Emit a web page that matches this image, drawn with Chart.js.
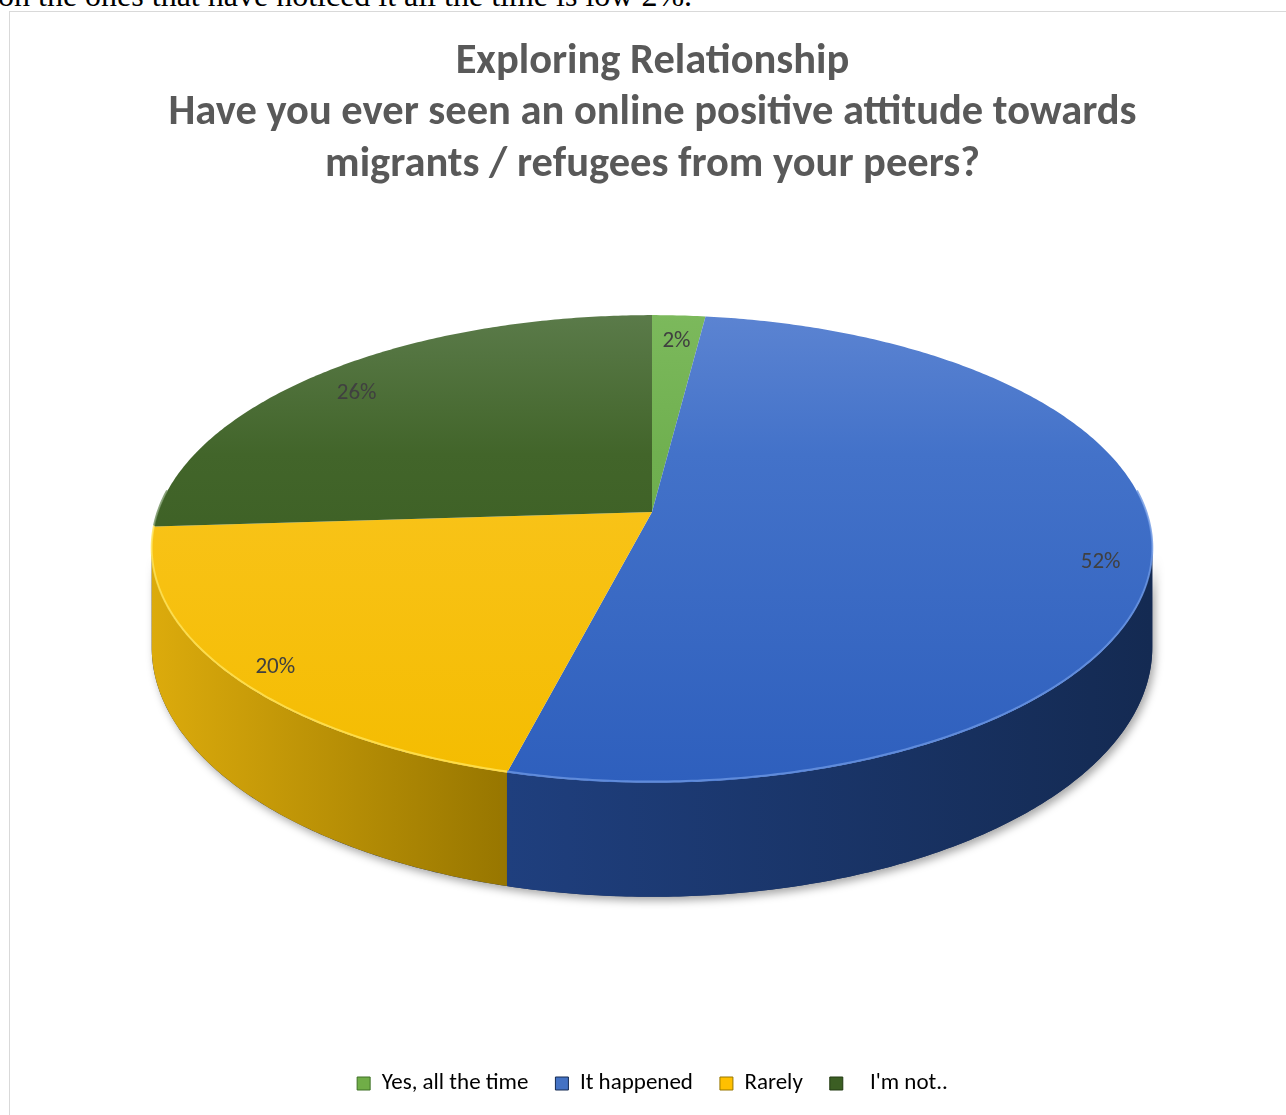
<!DOCTYPE html>
<html>
<head>
<meta charset="utf-8">
<script src="https://cdn.jsdelivr.net/npm/chart.js@4.4.1/dist/chart.umd.min.js"></script>
<style>
  html, body { margin: 0; padding: 0; background: #fff; width: 1286px; height: 1115px; overflow: hidden; }
  #lead { position: absolute; left: -2px; top: -23px; font: 32px "Liberation Serif", "Times New Roman", serif; line-height: 36px; color: #000; white-space: nowrap; }
  #frame { position: absolute; left: 9px; top: 11px; width: 1320px; height: 1200px; border: 1px solid #d9d9d9; box-sizing: border-box; }
  #wrap { position: absolute; left: 0; top: 0; width: 1286px; height: 1115px; }
</style>
</head>
<body>
<div id="lead">on the ones that have noticed it all the time is low 2%.</div>
<div id="frame"></div>
<div id="wrap"><canvas id="c" width="1286" height="1115"></canvas></div>
<script>
// Survey answers and their shares (percent)
const categories = ['Yes, all the time', 'It happened', 'Rarely', '   I\'m not..'];
const shares = [2, 52, 20, 26];

// Title lines
const titleLines = [
  'Exploring Relationship',
  'Have you ever seen an online positive attitude towards',
  'migrants / refugees from your peers?'
];

// Slice colours: top face (upper / middle / lower tone), side wall (left / right tone), legend swatch
const faceTop    = ['#7cb95c', '#5c84d2', '#fbc947', '#5b7b4a'];
const faceMid    = ['#70b050', '#4372c9', '#f9c41c', '#42652a'];
const faceBottom = ['#68aa47', '#2e5fbd', '#f4bc00', '#335619'];
const sideLeft   = ['#4f8a32', '#1f3f7e', '#dcab0c', '#2c4a18'];
const sideRight  = ['#3e7026', '#142a52', '#977600', '#223a12'];
const rimLight   = ['#9fd27e', '#6c96e2', '#ffe35a', '#6f8f5c'];
const swatch     = ['#70ad47', '#4472c4', '#ffc000', '#3b5e23'];

const FONT = 'Carlito, Lato, "Open Sans", sans-serif';

// Perspective view of the tilted disc
const view = { cx: 652, cy: 512, rx: 494, ry: 228, persp: -0.158, depth: 96 };

function project(theta, f, drop) {
  const u = f * Math.cos(theta), v = f * Math.sin(theta);
  const w = 1 + view.persp * v;
  return [view.cx + view.rx * u / w, view.cy + (view.ry * v + drop) / w];
}

function rim(ctx, a, b, drop, first) {
  const n = Math.max(2, Math.ceil(Math.abs(b - a) / 0.01));
  for (let i = 0; i <= n; i++) {
    const p = project(a + (b - a) * i / n, 1, drop);
    if (i === 0 && first) ctx.moveTo(p[0], p[1]); else ctx.lineTo(p[0], p[1]);
  }
}

// Angles where the silhouette is widest: the front wall is visible between them
const thetaR = Math.asin(-view.persp);
const thetaL = Math.PI - thetaR;

function wallPath(ctx, a, b) {
  ctx.beginPath();
  rim(ctx, a, b, 0, true);
  rim(ctx, b, a, view.depth, false);
  ctx.closePath();
}

const pie3d = {
  id: 'pie3d',
  beforeDatasetsDraw(chart) {
    const ctx = chart.ctx;
    const arcs = chart.getDatasetMeta(0).data;
    ctx.save();

    // soft shadow under the whole wall
    ctx.save();
    ctx.shadowColor = 'rgba(0,0,0,0.35)';
    ctx.shadowBlur = 9;
    ctx.shadowOffsetX = 3;
    ctx.shadowOffsetY = 4;
    wallPath(ctx, thetaR, thetaL);
    ctx.fillStyle = '#1a2f5c';
    ctx.fill();
    ctx.restore();

    // side walls of each slice
    arcs.forEach((arc, i) => {
      const a = Math.max(arc.startAngle, thetaR);
      const b = Math.min(arc.endAngle, thetaL);
      if (b <= a) return;
      const xa = project(a, 1, 0)[0], xb = project(b, 1, 0)[0];
      const g = ctx.createLinearGradient(Math.min(xa, xb), 0, Math.max(xa, xb), 0);
      g.addColorStop(0, sideLeft[i]);
      g.addColorStop(1, sideRight[i]);
      wallPath(ctx, a, b);
      ctx.fillStyle = g;
      ctx.fill();
    });

    // top faces
    arcs.forEach((arc, i) => {
      ctx.beginPath();
      ctx.moveTo(view.cx, view.cy);
      rim(ctx, arc.startAngle, arc.endAngle, 0, false);
      ctx.closePath();
      const g = ctx.createLinearGradient(0, view.cy - 200, 0, view.cy + 275);
      g.addColorStop(0, faceTop[i]);
      g.addColorStop(0.3, faceMid[i]);
      g.addColorStop(1, faceBottom[i]);
      ctx.fillStyle = g;
      ctx.fill();
    });

    // light bevel along the front rim
    arcs.forEach((arc, i) => {
      const a = Math.max(arc.startAngle, thetaR - 0.25);
      const b = Math.min(arc.endAngle, thetaL + 0.25);
      if (b <= a) return;
      ctx.beginPath();
      rim(ctx, a, b, -1, true);
      ctx.strokeStyle = rimLight[i];
      ctx.globalAlpha = 0.8;
      ctx.lineWidth = 2;
      ctx.stroke();
      ctx.globalAlpha = 1;
    });

    // value labels
    ctx.font = '23px ' + FONT;
    ctx.fillStyle = '#404040';
    ctx.textAlign = 'center';
    ctx.textBaseline = 'middle';
    arcs.forEach((arc, i) => {
      const mid = (arc.startAngle + arc.endAngle) / 2;
      const p = project(mid, 0.9, 10);
      ctx.fillText(shares[i] + '%', p[0], p[1]);
    });

    ctx.restore();
    return false;
  }
};

new Chart(document.getElementById('c'), {
  type: 'pie',
  data: {
    labels: categories,
    datasets: [{ data: shares, backgroundColor: swatch, borderWidth: 0 }]
  },
  options: {
    responsive: false,
    animation: false,
    layout: { padding: { left: 19, bottom: 10 } },
    plugins: {
      title: {
        display: true,
        text: titleLines,
        color: '#595959',
        font: { family: FONT, size: 42.5, weight: 'bold', lineHeight: 1.22 },
        padding: { top: 36, bottom: 10 }
      },
      legend: {
        position: 'bottom',
        labels: {
          color: '#595959',
          font: { family: FONT, size: 23 },
          boxWidth: 13,
          boxHeight: 13,
          padding: 27,
          generateLabels(chart) {
            return chart.data.labels.map((t, i) => ({
              text: t,
              fillStyle: swatch[i],
              strokeStyle: sideRight[i],
              lineWidth: 1,
              index: i
            }));
          }
        }
      },
      tooltip: { enabled: false }
    }
  },
  plugins: [pie3d]
});
</script>
</body>
</html>
